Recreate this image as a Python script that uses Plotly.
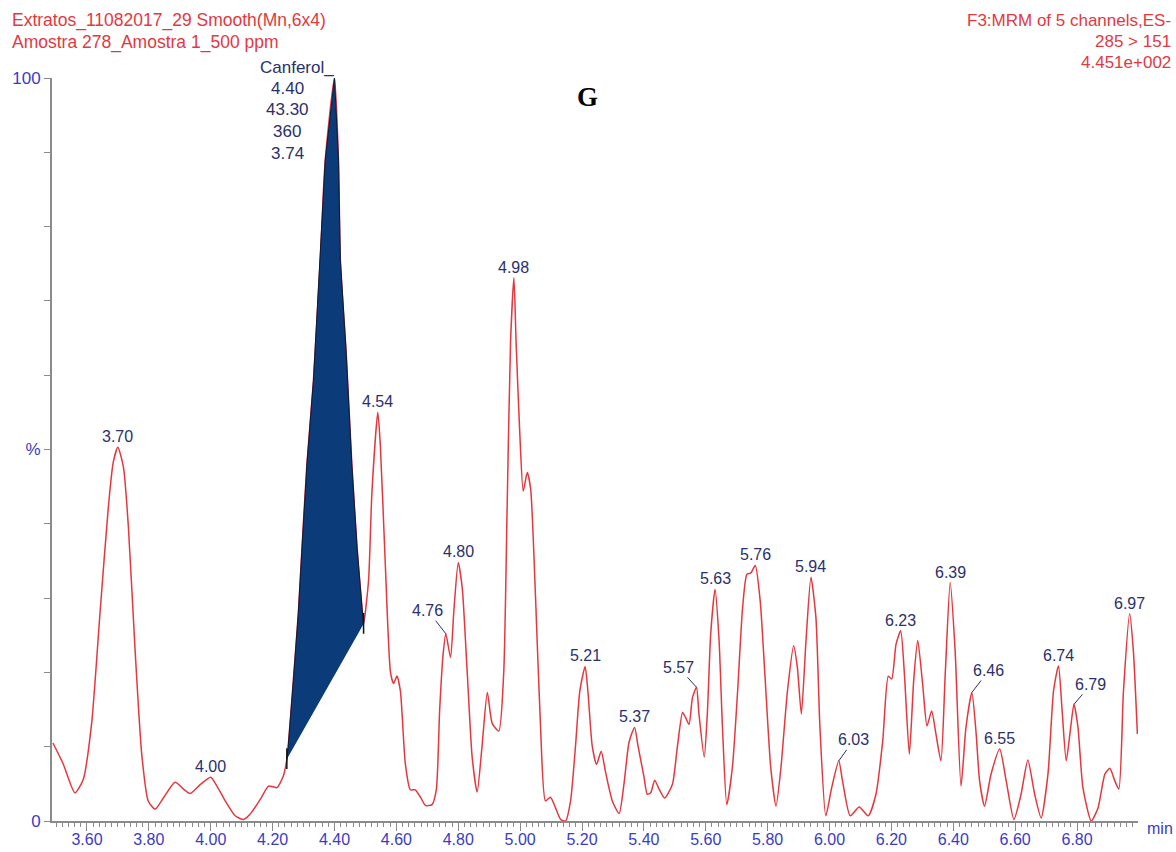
import numpy as np
import plotly.graph_objects as go

# ---------------- data ----------------
times = [3.490, 3.523, 3.561, 3.588, 3.615, 3.642, 3.669, 3.685, 3.700, 3.718,
         3.734, 3.755, 3.777, 3.798, 3.820, 3.847, 3.885, 3.912, 3.933, 3.966,
         4.000, 4.020, 4.047, 4.079, 4.106, 4.127, 4.160, 4.187, 4.214, 4.235,
         4.246, 4.250, 4.267, 4.283, 4.295, 4.311, 4.332, 4.354, 4.370, 4.400,
         4.413, 4.419, 4.438, 4.456, 4.473, 4.489, 4.494, 4.510, 4.521, 4.540,
         4.548, 4.564, 4.581, 4.591, 4.602, 4.613, 4.629, 4.645, 4.661, 4.678,
         4.694, 4.715, 4.729, 4.740, 4.751, 4.760, 4.775, 4.786, 4.800, 4.813,
         4.829, 4.845, 4.861, 4.877, 4.894, 4.910, 4.931, 4.947, 4.958, 4.969,
         4.980, 4.987, 4.999, 5.010, 5.023, 5.034, 5.050, 5.066, 5.082, 5.098,
         5.115, 5.131, 5.147, 5.163, 5.179, 5.193, 5.210, 5.219, 5.233, 5.247,
         5.262, 5.276, 5.298, 5.320, 5.336, 5.352, 5.370, 5.381, 5.400, 5.411,
         5.422, 5.435, 5.449, 5.467, 5.492, 5.508, 5.525, 5.535, 5.546, 5.557,
         5.570, 5.578, 5.595, 5.605, 5.616, 5.630, 5.643, 5.654, 5.668, 5.686,
         5.703, 5.719, 5.733, 5.746, 5.760, 5.776, 5.791, 5.810, 5.827, 5.843,
         5.864, 5.884, 5.896, 5.909, 5.924, 5.940, 5.956, 5.969, 5.988, 6.007,
         6.030, 6.042, 6.067, 6.096, 6.125, 6.150, 6.172, 6.190, 6.201, 6.215,
         6.230, 6.242, 6.258, 6.272, 6.285, 6.301, 6.315, 6.330, 6.344, 6.360,
         6.374, 6.390, 6.406, 6.425, 6.441, 6.460, 6.474, 6.485, 6.501, 6.522,
         6.550, 6.571, 6.596, 6.619, 6.641, 6.663, 6.684, 6.706, 6.724, 6.740,
         6.751, 6.765, 6.778, 6.790, 6.803, 6.819, 6.846, 6.868, 6.890, 6.906,
         6.922, 6.935, 6.950, 6.970, 6.982, 6.995]

intensity = [10.5, 7.7, 3.8, 5.6, 13.1, 27.9, 42.2, 48.3, 50.3, 47.6,
             39.5, 23.4, 9.0, 2.7, 1.6, 3.1, 5.2, 4.3, 3.7, 4.9,
             5.9, 4.7, 2.7, 0.7, 0.2, 0.9, 2.9, 4.7, 4.5, 6.1,
             8.3, 9.8, 18.9, 27.9, 36.8, 48.1, 59.3, 75.5, 88.9, 100.0,
             88.9, 75.5, 62.9, 48.1, 36.8, 28.7, 26.5, 32.3, 44.2, 55.0,
             50.7, 34.8, 20.0, 18.5, 19.5, 17.5, 7.7, 4.2, 4.2, 3.2,
             2.1, 2.2, 4.2, 15.0, 22.4, 25.2, 22.0, 28.4, 34.8, 31.3,
             20.0, 8.6, 3.9, 10.1, 17.3, 13.1, 12.1, 20.0, 42.2, 64.4,
             73.1, 64.4, 52.1, 44.4, 46.9, 44.7, 29.9, 12.6, 2.7, 3.2,
             1.7, 0.2, 0.0, 2.7, 10.1, 17.5, 20.8, 17.5, 10.1, 7.6,
             9.4, 6.6, 2.7, 1.0, 5.1, 10.6, 12.6, 10.1, 6.0, 3.6,
             3.8, 5.5, 4.3, 3.1, 4.9, 9.9, 14.6, 13.9, 13.0, 16.6,
             18.0, 14.4, 8.6, 14.4, 25.2, 31.2, 24.3, 12.6, 2.2, 7.2,
             17.5, 28.7, 33.2, 33.4, 34.4, 29.6, 19.8, 7.2, 2.0, 7.2,
             17.5, 23.6, 20.7, 14.4, 24.3, 32.8, 27.4, 12.6, 0.7, 4.5,
             8.1, 5.4, 0.7, 1.9, 0.7, 3.6, 10.8, 19.5, 19.1, 23.8,
             25.6, 19.8, 9.0, 18.9, 24.3, 18.4, 12.8, 14.8, 11.7, 8.1,
             19.8, 32.1, 22.9, 4.7, 12.6, 17.3, 11.7, 5.4, 2.0, 6.3,
             9.7, 5.4, 0.2, 3.6, 8.2, 3.6, 0.4, 6.3, 17.5, 20.9,
             15.3, 8.1, 12.1, 15.7, 12.6, 4.5, 0.0, 1.8, 6.3, 7.1,
             5.4, 4.3, 17.5, 27.9, 22.9, 11.7]

# labelled peaks (retention times)
peak_labels = ["3.70", "4.00", "4.54", "4.76", "4.80", "4.98", "5.21", "5.37",
               "5.57", "5.63", "5.76", "5.94", "6.03", "6.23", "6.39", "6.46",
               "6.55", "6.74", "6.79", "6.97"]

# integrated peak (Canferol)
canferol_name = "Canferol_"
canferol_info = ["4.40", "43.30", "360", "3.74"]
canferol_rt = 4.40
canferol_start = 4.246
canferol_end = 4.494

header_left = ["Extratos_11082017_29 Smooth(Mn,6x4)", "Amostra 278_Amostra 1_500 ppm"]
header_right = ["F3:MRM of 5 channels,ES-", "285 > 151", "4.451e+002"]
panel_letter = "G"
x_unit = "min"

y_tickvals = [0, 10, 20, 30, 40, 50, 60, 70, 80, 90, 100]
y_ticktext = ["0", "", "", "", "", "%", "", "", "", "", "100"]

# ---------------- style ----------------
RED = "#e4383f"
NAVY = "#2b2f6e"
BLUE = "#3b3bc6"
GREY = "#8a8a8a"
FILL = "#0b3b78"
FONT = "Liberation Sans"

W, H = 1176, 852
ML, MR, MT, MB = 52, 38, 78, 31
PW, PH = W - ML - MR, H - MT - MB


def px(xp):
    return (xp - ML) / PW


def py(yp):
    return (H - MB - yp) / PH


t_arr = np.array(times)
v_arr = np.array(intensity)

fig = go.Figure()

fig.add_trace(go.Scatter(
    x=times, y=intensity, mode="lines",
    line=dict(color=RED, width=1.5, shape="spline", smoothing=0.6),
    hoverinfo="skip", showlegend=False))

mask = (t_arr >= canferol_start - 1e-9) & (t_arr <= canferol_end + 1e-9)
fig.add_trace(go.Scatter(
    x=t_arr[mask], y=v_arr[mask], mode="lines", fill="toself",
    fillcolor=FILL, line=dict(color="#0a1a38", width=1),
    hoverinfo="skip", showlegend=False))

v_start = float(np.interp(canferol_start, t_arr, v_arr))
v_end = float(np.interp(canferol_end, t_arr, v_arr))
for tt, vv in [(canferol_start, v_start), (canferol_end, v_end)]:
    fig.add_shape(type="line", x0=tt, x1=tt, y0=vv - 1.3, y1=vv + 1.5,
                  line=dict(color="#111111", width=1.5))

annotations = []

# peak labels
leader = {"4.76": (-18, -23), "5.57": (-18, -20), "6.03": (15, -21),
          "6.46": (17, -22), "6.79": (17, -20)}
for lab in peak_labels:
    t = float(lab)
    v = float(np.interp(t, t_arr, v_arr))
    if lab in leader:
        ax, ay = leader[lab]
        annotations.append(dict(
            x=t, y=v, xref="x", yref="y", text=lab, showarrow=True,
            arrowhead=0, arrowwidth=1, arrowcolor=NAVY, ax=ax, ay=ay,
            standoff=0, font=dict(family=FONT, size=16, color=NAVY)))
    else:
        annotations.append(dict(
            x=t, y=v, xref="x", yref="y", text=lab, showarrow=False,
            xanchor="center", yanchor="bottom", yshift=0,
            font=dict(family=FONT, size=16, color=NAVY)))

# Canferol label block
v_peak = float(np.interp(canferol_rt, t_arr, v_arr))
annotations.append(dict(
    x=canferol_rt, y=v_peak, xref="x", yref="y", text=canferol_name,
    showarrow=False, xanchor="right", yanchor="bottom", xshift=2, yshift=-1,
    font=dict(family=FONT, size=17, color=NAVY)))
for i, s in enumerate(canferol_info):
    annotations.append(dict(
        x=canferol_rt, y=v_peak, xref="x", yref="y", text=s,
        showarrow=False, xanchor="center", yanchor="middle",
        xshift=-47, yshift=-(10 + 21.7 * i),
        font=dict(family=FONT, size=17, color=NAVY)))

# headers
for i, s in enumerate(header_left):
    annotations.append(dict(
        x=px(10), y=py(21 + 21 * i), xref="paper", yref="paper", text=s,
        showarrow=False, xanchor="left", yanchor="middle",
        font=dict(family=FONT, size=17.5, color=RED)))
for i, s in enumerate(header_right):
    annotations.append(dict(
        x=px(1173), y=py(21 + 20.5 * i), xref="paper", yref="paper", text=s,
        showarrow=False, xanchor="right", yanchor="middle",
        font=dict(family=FONT, size=17, color=RED)))

annotations.append(dict(
    x=px(587), y=py(97), xref="paper", yref="paper", text="<b>%s</b>" % panel_letter,
    showarrow=False, xanchor="center", yanchor="middle",
    font=dict(family="Liberation Serif", size=27, color="#000000")))

annotations.append(dict(
    x=px(1145), y=py(828), xref="paper", yref="paper", text=x_unit,
    showarrow=False, xanchor="left", yanchor="middle",
    font=dict(family=FONT, size=16, color=BLUE)))

fig.update_layout(
    width=W, height=H, autosize=False,
    margin=dict(l=ML, r=MR, t=MT, b=MB, pad=0, autoexpand=False),
    paper_bgcolor="white", plot_bgcolor="white",
    showlegend=False,
    annotations=annotations,
    xaxis=dict(
        range=[3.487, 6.997], tick0=3.6, dtick=0.2, tickformat=".2f",
        ticks="outside", ticklen=8, tickwidth=1, tickcolor=GREY,
        showline=True, linecolor=GREY, linewidth=2, showgrid=False,
        zeroline=False, automargin=False, ticklabelstandoff=-5,
        tickfont=dict(family=FONT, size=16, color=BLUE),
        minor=dict(tick0=3.6, dtick=0.02, ticks="outside", ticklen=4,
                   tickwidth=1, tickcolor=GREY, showgrid=False)),
    yaxis=dict(
        range=[0, 100], tickvals=y_tickvals, ticktext=y_ticktext,
        ticks="outside", ticklen=6, tickwidth=1, tickcolor=GREY,
        showline=True, linecolor=GREY, linewidth=2, showgrid=False,
        zeroline=False, automargin=False,
        tickfont=dict(family=FONT, size=17, color=BLUE)),
)

fig.write_html(
    "out.html",
    config={"displayModeBar": False},
    post_script="document.body.style.margin='0';document.body.style.overflow='hidden';")
